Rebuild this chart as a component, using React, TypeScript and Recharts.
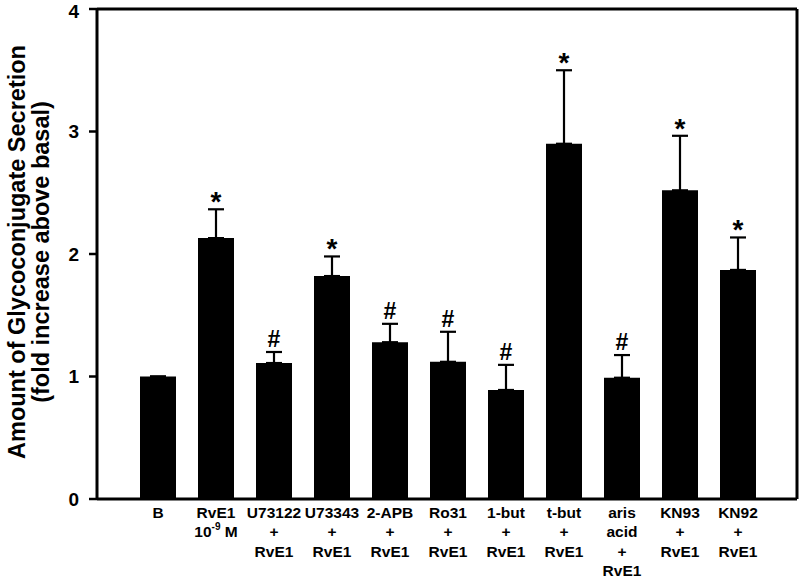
import React from "react";
import { BarChart, Bar, XAxis, YAxis, ErrorBar, LabelList } from "recharts";

const FONT = "'Liberation Sans', Arial, sans-serif";

// treatment groups, one bar each
const groups = ["B", "RvE1", "U73122", "U73343", "2-APB", "Ro31", "1-but", "t-but", "aris", "KN93", "KN92"];

// axis labels under each bar, line by line ("^" marks a superscript)
const tickLabels = [
  ["B"],
  ["RvE1", "10^-9 M"],
  ["U73122", "+", "RvE1"],
  ["U73343", "+", "RvE1"],
  ["2-APB", "+", "RvE1"],
  ["Ro31", "+", "RvE1"],
  ["1-but", "+", "RvE1"],
  ["t-but", "+", "RvE1"],
  ["aris", "acid", "+", "RvE1"],
  ["KN93", "+", "RvE1"],
  ["KN92", "+", "RvE1"],
];

// fold increase above basal, mean and upper SEM
const means = [1.0, 2.13, 1.11, 1.82, 1.28, 1.12, 0.89, 2.9, 0.99, 2.52, 1.87];
const sems = [0, 0.235, 0.09, 0.16, 0.15, 0.245, 0.205, 0.6, 0.185, 0.445, 0.265];

// significance marks
const marks = ["", "*", "#", "*", "#", "#", "#", "*", "#", "*", "*"];

const yTicks = [0, 1, 2, 3, 4];

const data = groups.map((g, i) => ({
  group: g,
  mean: means[i],
  err: [0, sems[i]],
  mark: marks[i],
}));

function renderLine(line: string) {
  const m = line.match(/^(.*)\^(\S+)(.*)$/);
  if (!m) return line;
  return (
    <>
      {m[1]}
      <tspan dy={-7} fontSize={10}>{m[2]}</tspan>
      <tspan dy={7}>{m[3]}</tspan>
    </>
  );
}

function CategoryTick(props: any) {
  const { x, y, payload } = props;
  const lines = tickLabels[payload.index] || [String(payload.value)];
  return (
    <g>
      {lines.map((line, k) => (
        <text
          key={k}
          x={x}
          y={y + 19 + k * 19.3}
          textAnchor="middle"
          fontFamily={FONT}
          fontWeight="bold"
          fontSize={15.5}
          fill="#000"
        >
          {renderLine(line)}
        </text>
      ))}
    </g>
  );
}

function SigMark(props: any) {
  const { x, y, width, height, value, index } = props;
  if (!value) return null;
  const i = index ?? 0;
  const perUnit = means[i] ? height / means[i] : 0;
  const capY = y - sems[i] * perUnit;
  const star = value === "*";
  return (
    <text
      x={x + width / 2}
      y={star ? capY + 2 : capY - 5}
      textAnchor="middle"
      fontFamily={FONT}
      fontWeight="bold"
      fontSize={star ? 28 : 23}
      fill="#000"
    >
      {value}
    </text>
  );
}

function YTitle(props: any) {
  const vb = props.viewBox || { y: 9, height: 490 };
  const cy = vb.y + vb.height / 2 - 2;
  return (
    <g fontFamily={FONT} fontWeight="bold" fontSize={23.5} fill="#000">
      <text x={25} y={cy} textAnchor="middle" transform={`rotate(-90 25 ${cy})`}>
        Amount of Glycoconjugate Secretion
      </text>
      <text x={49} y={cy} textAnchor="middle" transform={`rotate(-90 49 ${cy})`}>
        (fold increase above basal)
      </text>
    </g>
  );
}

export default function App() {
  return (
    <div style={{ position: "absolute", left: 0, top: 0, background: "#fff" }}>
      <BarChart
        width={800}
        height={579}
        data={data}
        margin={{ top: 0, right: 0, bottom: 0, left: 0 }}
        barCategoryGap={0}
      >
        <XAxis
          dataKey="group"
          height={80}
          interval={0}
          padding={{ left: 32, right: 30 }}
          tickLine={false}
          tickSize={0}
          tickMargin={0}
          axisLine={{ stroke: "#000", strokeWidth: 3 }}
          tick={<CategoryTick />}
        />
        <XAxis
          xAxisId="top"
          orientation="top"
          dataKey="group"
          height={9}
          tick={false}
          tickLine={false}
          axisLine={{ stroke: "#000", strokeWidth: 3 }}
        />
        <YAxis
          domain={[0, 4]}
          ticks={yTicks}
          width={97}
          tickSize={8}
          tickMargin={10}
          axisLine={{ stroke: "#000", strokeWidth: 3 }}
          tickLine={{ stroke: "#000", strokeWidth: 2.5 }}
          tick={{ fontFamily: FONT, fontWeight: "bold", fontSize: 19, fill: "#000" }}
          label={{ content: YTitle }}
        />
        <YAxis
          yAxisId="frame"
          orientation="right"
          domain={[0, 4]}
          width={3}
          tick={false}
          tickLine={false}
          axisLine={{ stroke: "#000", strokeWidth: 3 }}
        />
        <Bar dataKey="mean" fill="#000" barSize={36} isAnimationActive={false}>
          <ErrorBar dataKey="err" width={8} strokeWidth={2.2} stroke="#000" isAnimationActive={false} />
          <LabelList dataKey="mark" content={SigMark} />
        </Bar>
      </BarChart>
    </div>
  );
}
